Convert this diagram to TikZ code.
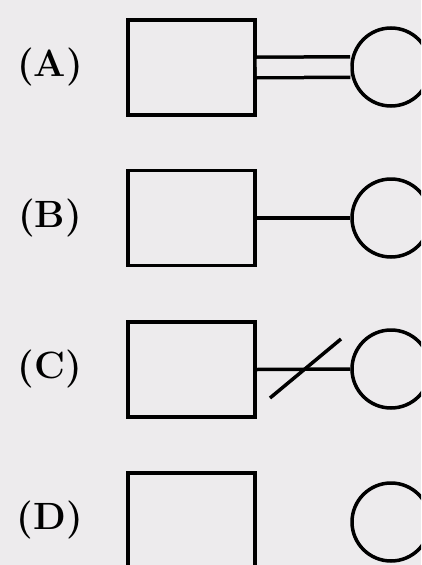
\documentclass[tikz,border=0pt]{standalone}
\usepackage{fontspec}
\usepackage{tikz}
\definecolor{paper}{rgb}{0.93,0.92,0.93}

\begin{document}
\begin{tikzpicture}[x=1pt,y=-1pt,line width=3.5pt]
            \tikzstyle{box}=[draw,rectangle,minimum width=127pt,minimum height=95pt,inner sep=0pt]
            \tikzstyle{ball}=[draw,circle,minimum size=78pt,inner sep=0pt]
            \tikzstyle{tag}=[font=\fontsize{38}{42}\selectfont\bfseries]

            % page
            \fill[paper] (0,0) rectangle (421,565);
            \useasboundingbox (0,0) rectangle (421,565);
            \clip (0,0) rectangle (421,565);

            % labels
            \node[tag] (labA) at (50,67) {(A)};
            \node[tag] (labB) at (50,218) {(B)};
            \node[tag] (labC) at (50,369) {(C)};
            \node[tag] (labD) at (50,520) {(D)};

            % boxes
            \node[box] (sqA) at (191.5,67.5) {};
            \node[box] (sqB) at (191.5,218) {};
            \node[box] (sqC) at (191.5,369.5) {};
            \node[box] (sqD) at (191.5,520.5) {};

            % balls
            \node[ball] (cirA) at (391,67) {};
            \node[ball] (cirB) at (391,218) {};
            \node[ball] (cirC) at (391,369) {};
            \node[ball] (cirD) at (391,522) {};

            % links
            \draw[double=paper,double distance=17pt] (sqA.east) -- (cirA.west);
            \draw (sqB.east) -- (cirB.west);
            \draw (sqC.east) -- (cirC.west);

            % cut on the third link
            \coordinate (cutlo) at (270,398);
            \coordinate (cuthi) at (341,339);
            \draw (cutlo) -- (cuthi);
        \end{tikzpicture}
\end{document}
